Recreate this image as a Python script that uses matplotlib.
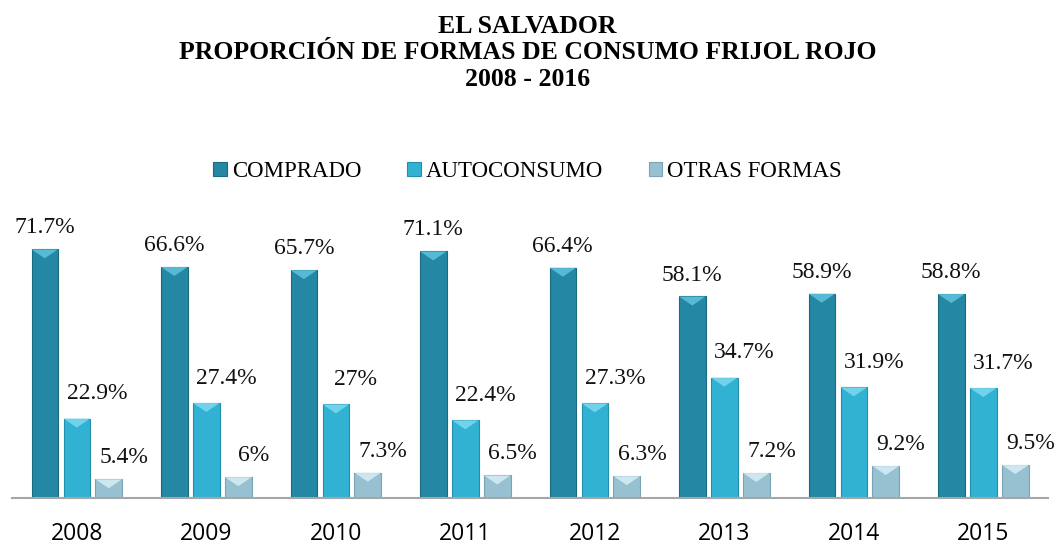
import matplotlib.pyplot as plt
from matplotlib.patches import Polygon
import numpy as np

plt.rcParams['font.family'] = ['Liberation Serif', 'DejaVu Serif']

# datos
anios = ['2008', '2009', '2010', '2011', '2012', '2013', '2014', '2015']
comprado = [71.7, 66.6, 65.7, 71.1, 66.4, 58.1, 58.9, 58.8]
autoconsumo = [22.9, 27.4, 27, 22.4, 27.3, 34.7, 31.9, 31.7]
otras = [5.4, 6, 7.3, 6.5, 6.3, 7.2, 9.2, 9.5]

# nombre, valores, color, borde, brillo, desplazamiento de etiqueta (pt)
series = [
    ('COMPRADO', comprado, '#2487a3', '#1a6a80', '#5fc4de', (0, 11.5)),
    ('AUTOCONSUMO', autoconsumo, '#31b2d3', '#2290ad', '#7ddaf0', (14.5, 14)),
    ('OTRAS FORMAS', otras, '#97c1d1', '#7aa3b3', '#d6eef6', (11, 11.5)),
]

fig = plt.figure(figsize=(10.55, 5.44), dpi=100)
ax = fig.add_axes([0.0114, 0.0846, 0.982, 0.51])

x = np.arange(len(anios))
ancho = 0.205
paso = 0.247
bisel = 2.6  # alto del brillo superior, en unidades del eje y

for i, (nombre, vals, color, borde, brillo, off) in enumerate(series):
    pos = x + (i - 1) * paso
    barras = ax.bar(pos, vals, width=ancho, color=color, edgecolor=borde,
                    linewidth=0.8, label=nombre, zorder=2)
    for b in barras:
        x0, w, h = b.get_x(), b.get_width(), b.get_height()
        tri = Polygon([(x0, h), (x0 + w, h), (x0 + w * 0.5, h - bisel)],
                      closed=True, facecolor=brillo, edgecolor='none',
                      alpha=0.85, zorder=3)
        ax.add_patch(tri)
    for px, v in zip(pos, vals):
        ax.annotate(f'{v:g}%', xy=(px, v), xytext=off, textcoords='offset points',
                    ha='center', va='baseline', fontsize=17, color='#111111')

ax.set_xlim(-0.5, 7.5)
ax.set_ylim(0, 80)
ax.set_yticks([])
ax.set_xticks(x)
ax.set_xticklabels(anios, fontsize=16.5, family=['Open Sans', 'DejaVu Sans'])
ax.tick_params(axis='x', length=0, pad=17)
for s in ['top', 'left', 'right']:
    ax.spines[s].set_visible(False)
ax.spines['bottom'].set_color('#a6a6a6')
ax.spines['bottom'].set_linewidth(1.5)

fig.text(0.5, 0.9026, 'EL SALVADOR\nPROPORCIÓN DE FORMAS DE CONSUMO FRIJOL ROJO\n2008 - 2016',
         ha='center', va='center', fontsize=18.5, fontweight='bold',
         linespacing=1.2)

fig.legend(loc='center', bbox_to_anchor=(0.5, 0.685), ncol=3, frameon=False,
           fontsize=16.5, handlelength=0.6, handleheight=0.6, handletextpad=0.2,
           columnspacing=2.0)

plt.savefig('out.png', dpi=100)
